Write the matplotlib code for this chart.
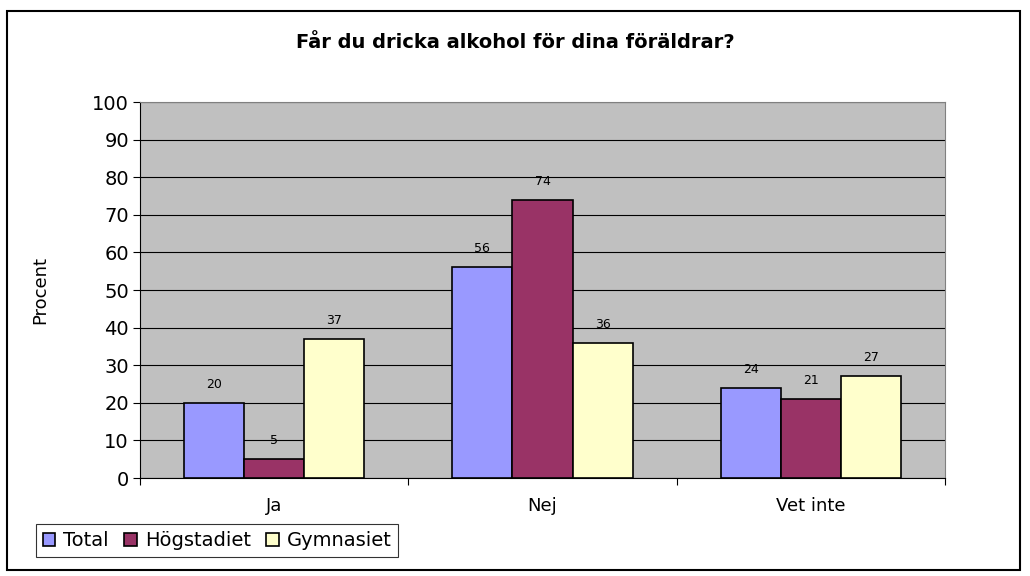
import matplotlib.pyplot as plt
import numpy as np
from matplotlib.patches import Rectangle

categories = ['Ja', 'Nej', 'Vet inte']
total = [20, 56, 24]
hogstadiet = [5, 74, 21]
gymnasiet = [37, 36, 27]
series = ['Total', 'Högstadiet', 'Gymnasiet']
colors = ['#9999FF', '#993366', '#FFFFCC']

plt.rcParams['font.family'] = ['DejaVu Sans']

fig = plt.figure(figsize=(10.3, 5.76), dpi=100)
# outer chart border
fig.patches.append(Rectangle((7/1030, 1-570/576), 1013/1030, 559/576, transform=fig.transFigure,
                             fill=False, edgecolor='black', linewidth=1.5))

ax = fig.add_axes([140/1030, 1-478/576, 805/1030, 376/576])
ax.set_facecolor('#C0C0C0')

x = np.arange(len(categories))
w = 0.224
for i, (vals, name, c) in enumerate(zip([total, hogstadiet, gymnasiet], series, colors)):
    pos = x + (i - 1) * w
    ax.bar(pos, vals, w, color=c, edgecolor='black', linewidth=1.2, label=name, zorder=3)
    for p, v in zip(pos, vals):
        ax.text(p, v + 3.2, str(v), ha='center', va='bottom', fontsize=9, zorder=4)

ax.set_xlim(-0.5, 2.5)
ax.set_ylim(0, 100)
ax.set_yticks(range(0, 101, 10))
ax.set_xticks([-0.5, 0.5, 1.5, 2.5], minor=False)
ax.set_xticklabels([])
ax.set_xticks(x, minor=True)
ax.set_xticklabels(categories, minor=True, fontsize=13)
ax.tick_params(axis='x', which='minor', length=0, pad=14)
ax.tick_params(axis='x', which='major', length=5, direction='out')
ax.tick_params(axis='y', labelsize=14, length=5, pad=3)
ax.grid(axis='y', color='black', linewidth=0.8, zorder=1)
for s in ['top', 'right']:
    ax.spines[s].set_color('#808080')
ax.spines['left'].set_color('black')
ax.spines['bottom'].set_color('black')
ax.set_ylabel('Procent', fontsize=13, labelpad=31)

fig.text(0.5, 1-42/576, 'Får du dricka alkohol för dina föräldrar?', ha='center', va='center',
         fontsize=14, fontweight='bold')

leg = fig.legend(loc='lower left', bbox_to_anchor=(36/1030, 1-557/576), ncol=3, fontsize=14,
                 frameon=True, fancybox=False, edgecolor='black', handlelength=0.65, handleheight=0.65,
                 handletextpad=0.4, columnspacing=0.8, borderpad=0.35, borderaxespad=0)
leg.get_frame().set_linewidth(0.8)

fig.savefig('out.png', dpi=100)
